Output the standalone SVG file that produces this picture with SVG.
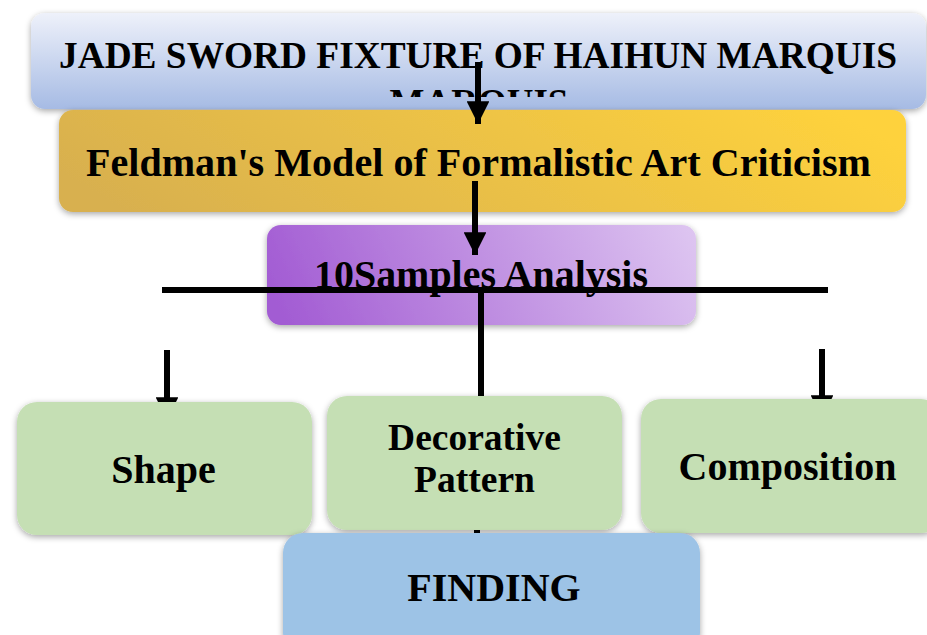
<svg xmlns="http://www.w3.org/2000/svg" width="927" height="635" viewBox="0 0 927 635">
<defs>
<linearGradient id="gTop" x1="0" y1="0" x2="0" y2="1">
<stop offset="0" stop-color="#eef1fa"/><stop offset="1" stop-color="#a6bbe4"/>
</linearGradient>
<linearGradient id="gYel" x1="0" y1="0.6" x2="1" y2="0.4">
<stop offset="0" stop-color="#d8b04f"/><stop offset="1" stop-color="#fed23d"/>
</linearGradient>
<linearGradient id="gPur" gradientUnits="userSpaceOnUse" x1="300" y1="360" x2="680" y2="190">
<stop offset="0" stop-color="#a25bd3"/><stop offset="1" stop-color="#dec6f1"/>
</linearGradient>
<clipPath id="clipM"><rect x="0" y="0" width="927" height="97"/></clipPath>
<filter id="sh" x="-10%" y="-20%" width="120%" height="140%">
<feDropShadow dx="0" dy="2" stdDeviation="3" flood-color="#000" flood-opacity="0.35"/>
</filter>
<marker id="ah" viewBox="0 0 10 10" refX="10" refY="5" markerWidth="4" markerHeight="3.8" orient="auto" markerUnits="strokeWidth">
<path d="M0,0 L10,5 L0,10 Z" fill="#000"/>
</marker>
</defs>
<style>
.t{font-family:"Liberation Serif","Times New Roman",serif;font-weight:bold;fill:#000;text-anchor:middle}
.ln{stroke:#000;stroke-width:6;fill:none}
.gr{fill:#c5dfb4}
</style>
<g id="n-top">
<rect x="31" y="13" width="895" height="96" rx="14" fill="url(#gTop)" filter="url(#sh)"/>
<text class="t" x="478" y="68" font-size="37" textLength="838" lengthAdjust="spacingAndGlyphs">JADE SWORD FIXTURE OF HAIHUN MARQUIS</text>
<text class="t" x="479" y="115" font-size="37" clip-path="url(#clipM)">MARQUIS</text>
</g>
<g id="n-feldman">
<rect x="59" y="110" width="847" height="102" rx="14" fill="url(#gYel)" filter="url(#sh)"/>
<text class="t" x="478.5" y="176" font-size="40" textLength="785" lengthAdjust="spacingAndGlyphs">Feldman's Model of Formalistic Art Criticism</text>
</g>
<g id="n-samples">
<rect x="267" y="225" width="429" height="100" rx="14" fill="url(#gPur)" filter="url(#sh)"/>
<text class="t" x="481" y="288" font-size="40" textLength="334" lengthAdjust="spacingAndGlyphs">10Samples Analysis</text>
</g>
<g id="connectors">
<line class="ln" x1="478" y1="62" x2="478" y2="124" marker-end="url(#ah)"/>
<line class="ln" x1="475" y1="181" x2="475" y2="255" marker-end="url(#ah)"/>
<line class="ln" x1="162" y1="290" x2="828" y2="290" stroke-width="7"/>
<line class="ln" x1="481" y1="290" x2="481" y2="397"/>
<line class="ln" x1="477" y1="520" x2="477" y2="540"/>
<line class="ln" x1="167" y1="350" x2="167" y2="420" marker-end="url(#ah)"/>
<line class="ln" x1="822" y1="349" x2="822" y2="418" marker-end="url(#ah)"/>
</g>
<g id="n-shape">
<rect class="gr" x="17" y="402" width="295" height="133" rx="20" filter="url(#sh)"/>
<text class="t" x="163.5" y="483" font-size="40">Shape</text>
</g>
<g id="n-decorative">
<rect class="gr" x="327" y="396" width="295" height="134" rx="20" filter="url(#sh)"/>
<text class="t" x="474.5" y="450" font-size="37.5">Decorative</text>
<text class="t" x="474.5" y="492" font-size="37.5">Pattern</text>
</g>
<g id="n-composition">
<rect class="gr" x="641" y="399" width="300" height="134" rx="20" filter="url(#sh)"/>
<text class="t" x="787.5" y="480" font-size="40">Composition</text>
</g>
<g id="n-finding">
<rect x="283" y="533" width="417" height="120" rx="20" fill="#9dc3e6" filter="url(#sh)"/>
<text class="t" x="494" y="601" font-size="40">FINDING</text>
</g>
</svg>
